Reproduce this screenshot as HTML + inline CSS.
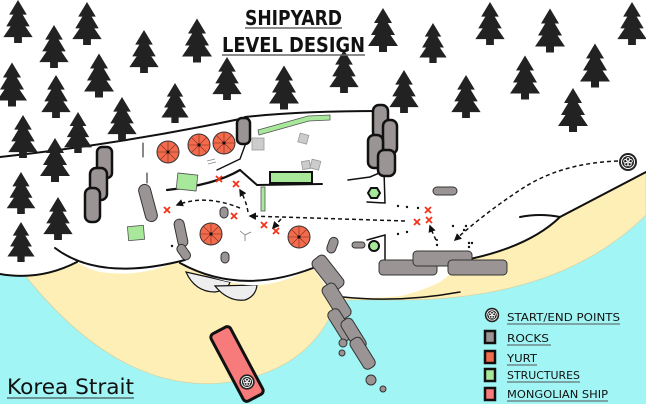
<!DOCTYPE html>
<html><head><meta charset="utf-8"><style>
html,body{margin:0;padding:0;background:#fff}
svg{display:block}
</style></head><body>
<svg width="646" height="404" viewBox="0 0 646 404" xmlns="http://www.w3.org/2000/svg">
<defs>
<symbol id="tree" viewBox="0 0 30 44">
<polygon points="15,0 6,15 24,15" fill="#222"/>
<polygon points="15,7 3,27 27,27" fill="#222"/>
<polygon points="15,16 0,38 30,38" fill="#222"/>
<rect x="11" y="37" width="8" height="7" fill="#222"/>
</symbol>
<g id="yurt"><circle r="11" fill="#f26b4d" stroke="#333" stroke-width="1"/>
<path d="M-11,0H11M0,-11V11M-7.8,-7.8L7.8,7.8M-7.8,7.8L7.8,-7.8" stroke="#7a2a1a" stroke-width="0.6"/>
<circle r="1.6" fill="#111"/></g>
<g id="xm"><path d="M-3,-3L3,3M-3,3L3,-3" stroke="#f2331a" stroke-width="1.8"/></g>
<g id="flower"><circle r="9" fill="#222"/><circle r="6.5" fill="none" stroke="#fff" stroke-width="1"/>
<g fill="none" stroke="#fff" stroke-width="0.9"><circle cx="0" cy="-2.6" r="1.8"/><circle cx="2.5" cy="-0.8" r="1.8"/><circle cx="1.5" cy="2.1" r="1.8"/><circle cx="-1.5" cy="2.1" r="1.8"/><circle cx="-2.5" cy="-0.8" r="1.8"/></g></g>
<marker id="ar" viewBox="0 0 10 10" refX="8" refY="5" markerWidth="5" markerHeight="5" orient="auto"><path d="M0,0L10,5L0,10z" fill="#111"/></marker>
</defs>
<rect width="646" height="404" fill="#a1f5f5"/>
<path d="M0,250 L28,279 Q120,392 222,383 Q300,374 330,317 L345,300 L400,300 Q560,300 646,215 V150 H0 Z" fill="#fdefb6" stroke="#d8cc99" stroke-width="0.6"/>
<!-- grey bumps -->
<path d="M186,272 Q195,292 215,292 Q228,290 230,282 Z" fill="#eee" stroke="#111" stroke-width="1.2"/>
<path d="M215,286 Q228,302 245,300 Q256,296 257,285 Z" fill="#eee" stroke="#111" stroke-width="1.2"/>
<path d="M0,0 H646 V172 Q600,197 560,217 Q530,246 470,259 L440,282 Q420,292 400,296 Q370,299 343,297 L330,292 L313,268 Q270,290 240,284 Q205,278 180,263 L175,262 Q140,278 100,272 Q85,268 77,262 Q40,282 0,274 Z" fill="#fff"/>
<g fill="none" stroke="#111" stroke-linecap="round">
<path d="M0,274 Q40,281 77,262" stroke-width="2"/>
<path d="M55,248 Q100,282 185,260" stroke-width="2"/>
<path d="M180,263 Q240,296 313,268" stroke-width="2"/>
<path d="M343,297 Q400,303 460,292" stroke-width="1.5"/>
<path d="M470,259 Q530,246 560,217 Q600,196 646,172" stroke-width="2"/>
<path d="M520,217 Q540,213 560,217" stroke-width="2"/>
<path d="M0,157 Q120,144 240,119" stroke-width="2"/>
<path d="M245,117 Q300,111 378,111" stroke-width="2"/>
<path d="M167,190 Q215,185 240,170" stroke-width="2.2"/>
<path d="M217,170 L240,159 L247,140" stroke-width="1.4"/>
<path d="M240,170 L257,185 L322,184" stroke-width="2"/>
<path d="M143,143 V157 M147,173 V183" stroke-width="1"/>
<path d="M348,180 L370,177 L384,171 L385,203 L367,202" stroke-width="1.5"/>
<path d="M367,240 L385,235 V260" stroke-width="1.5"/>
</g>
<!-- trees -->
<g>
<use href="#tree" x="3" y="0" width="30" height="43"/>
<use href="#tree" x="72" y="2" width="30" height="43"/>
<use href="#tree" x="39" y="25" width="30" height="43"/>
<use href="#tree" x="-3" y="62" width="30" height="45"/>
<use href="#tree" x="84" y="53" width="30" height="45"/>
<use href="#tree" x="41" y="75" width="30" height="43"/>
<use href="#tree" x="129" y="30" width="30" height="43"/>
<use href="#tree" x="182" y="18" width="30" height="45"/>
<use href="#tree" x="212" y="57" width="30" height="43"/>
<use href="#tree" x="160" y="83" width="30" height="40"/>
<use href="#tree" x="107" y="97" width="30" height="43"/>
<use href="#tree" x="8" y="115" width="30" height="43"/>
<use href="#tree" x="63" y="112" width="30" height="41"/>
<use href="#tree" x="40" y="138" width="30" height="44"/>
<use href="#tree" x="6" y="172" width="30" height="42"/>
<use href="#tree" x="43" y="197" width="30" height="43"/>
<use href="#tree" x="6" y="222" width="30" height="40"/>
<use href="#tree" x="269" y="65" width="30" height="45"/>
<use href="#tree" x="329" y="50" width="30" height="43"/>
<use href="#tree" x="368" y="8" width="30" height="44"/>
<use href="#tree" x="418" y="23" width="30" height="40"/>
<use href="#tree" x="389" y="70" width="30" height="43"/>
<use href="#tree" x="475" y="2" width="30" height="43"/>
<use href="#tree" x="451" y="75" width="30" height="43"/>
<use href="#tree" x="510" y="55" width="30" height="45"/>
<use href="#tree" x="535" y="8" width="30" height="45"/>
<use href="#tree" x="580" y="43" width="30" height="45"/>
<use href="#tree" x="558" y="88" width="30" height="44"/>
<use href="#tree" x="617" y="2" width="30" height="43"/>
</g>
<!-- structures -->
<g fill="#a7e89a" stroke="#555" stroke-width="0.8">
<path d="M258,130 L308,116 L330,115 L330,120 L309,121 L259,135 Z"/>
<rect x="177" y="174" width="20" height="16" transform="rotate(6 187 182)"/>
<rect x="128" y="226" width="16" height="14" transform="rotate(-5 136 233)"/>
<rect x="261" y="187" width="4" height="24"/>
</g>
<rect x="270" y="172" width="42" height="11" fill="#a7e89a" stroke="#111" stroke-width="2"/>
<g fill="#ccc" stroke="#999" stroke-width="0.8">
<rect x="252" y="138" width="12" height="12"/>
<rect x="299" y="134" width="9" height="9" transform="rotate(15 303 138)"/>
<rect x="302" y="161" width="8" height="8" transform="rotate(-10 306 165)"/>
<rect x="311" y="160" width="9" height="9" transform="rotate(15 315 164)"/>
</g>
<path d="M207,161 L215,159 M208,164 L216,162" stroke="#888" stroke-width="0.8"/>
<path d="M245,235 L245,241 M245,235 L240,231 M245,235 L251,232" stroke="#777" stroke-width="0.8"/>
<!-- rocks -->
<g fill="#9b9494" stroke="#111">
<rect x="237" y="118" width="13" height="26" rx="5" stroke-width="2.5"/>
<rect x="97" y="147" width="15" height="31" rx="5" stroke-width="2.5"/>
<rect x="90" y="168" width="17" height="32" rx="6" stroke-width="2.5"/>
<rect x="85" y="188" width="15" height="34" rx="6" stroke-width="2.5"/>
<rect x="373" y="105" width="15" height="33" rx="6" stroke-width="2.5"/>
<rect x="383" y="120" width="14" height="34" rx="6" stroke-width="2.5"/>
<rect x="368" y="135" width="15" height="33" rx="6" stroke-width="2.5"/>
<rect x="378" y="150" width="17" height="26" rx="6" stroke-width="2.5"/>
</g>
<g fill="#9b9494" stroke="#333" stroke-width="1">
<rect x="142" y="184" width="12" height="38" rx="6" transform="rotate(-15 148 203)"/>
<rect x="176" y="219" width="10" height="28" rx="5" transform="rotate(-12 181 233)"/>
<rect x="179" y="244" width="9" height="17" rx="4.5" transform="rotate(-35 183 252)"/>
<rect x="220" y="207" width="8" height="11" rx="4"/>
<rect x="221" y="252" width="8" height="11" rx="4"/>
<rect x="433" y="187" width="24" height="8" rx="4"/>
<rect x="328" y="237" width="9" height="16" rx="4.5" transform="rotate(20 332 245)"/>
<rect x="352" y="242" width="13" height="6" rx="3"/>
<rect x="379" y="260" width="58" height="15" rx="4"/>
<rect x="413" y="251" width="59" height="15" rx="4"/>
<rect x="448" y="260" width="59" height="15" rx="4"/>
<rect x="309" y="265" width="38" height="16" rx="5" transform="rotate(52 328 273)"/>
<rect x="318" y="294" width="38" height="15" rx="5" transform="rotate(58 337 301)"/>
<rect x="323" y="318" width="34" height="13" rx="5" transform="rotate(58 340 325)"/>
<rect x="337" y="328" width="34" height="13" rx="5" transform="rotate(58 354 334)"/>
<rect x="346" y="347" width="34" height="13" rx="5" transform="rotate(58 363 353)"/>
<circle cx="343" cy="343" r="4"/><circle cx="342" cy="353" r="3"/><circle cx="371" cy="380" r="5"/><circle cx="383" cy="389" r="3"/>
</g>
<path d="M368,193 l3,-5 h6 l3,5 l-3,5 h-6 z" fill="#a7e89a" stroke="#111" stroke-width="2"/>
<circle cx="374" cy="246" r="5" fill="#a7e89a" stroke="#111" stroke-width="2"/>
<!-- yurts -->
<use href="#yurt" x="168" y="152"/><use href="#yurt" x="199" y="145"/><use href="#yurt" x="224" y="143"/>
<use href="#yurt" x="211" y="234"/><use href="#yurt" x="299" y="237"/>
<!-- x marks -->
<use href="#xm" x="219" y="179"/><use href="#xm" x="236" y="184"/><use href="#xm" x="167" y="210"/>
<use href="#xm" x="234" y="216"/><use href="#xm" x="264" y="225"/><use href="#xm" x="276" y="231"/>
<use href="#xm" x="428" y="210"/><use href="#xm" x="417" y="222"/><use href="#xm" x="429" y="220"/>
<!-- dots -->
<g fill="#111"><circle cx="172" cy="246" r="1.2"/><circle cx="398" cy="206" r="1.2"/><circle cx="407" cy="207" r="1.2"/><circle cx="418" cy="208" r="1.2"/><circle cx="398" cy="234" r="1.2"/><circle cx="407" cy="232" r="1.2"/><circle cx="453" cy="226" r="1.2"/><circle cx="466" cy="226" r="1.2"/><circle cx="464" cy="230" r="1.2"/><circle cx="469" cy="243" r="1.2"/><circle cx="472" cy="243" r="1.2"/><circle cx="469" cy="247" r="1.2"/><circle cx="437" cy="245" r="1.2"/><circle cx="437" cy="240" r="1"/></g>
<!-- paths -->
<g fill="none" stroke="#111" stroke-width="1.5" stroke-dasharray="4 3">
<path d="M618,161 Q560,163 520,190 Q485,213 455,240" marker-end="url(#ar)"/>
<path d="M405,221 L250,216" marker-end="url(#ar)"/>
<path d="M248,212 Q246,200 240,190" marker-end="url(#ar)"/>
<path d="M240,208 Q205,194 177,205" marker-end="url(#ar)"/>
<path d="M281,219 L273,228" marker-end="url(#ar)"/>
<path d="M436,240 Q433,234 430,226" marker-end="url(#ar)"/>
</g>
<use href="#flower" x="628" y="162"/>
<!-- ship -->
<g transform="rotate(-28 237 364)">
<rect x="226" y="326" width="22" height="76" rx="4" fill="#f77b7b" stroke="#111" stroke-width="3"/>
</g>
<use href="#flower" transform="translate(247 382) scale(0.85)"/>
<!-- title -->
<g font-family="'DejaVu Sans','Liberation Sans',sans-serif" font-weight="bold" fill="#111">
<text x="245" y="25" font-size="20" textLength="97" lengthAdjust="spacingAndGlyphs">SHIPYARD</text>
<text x="222" y="52" font-size="20" textLength="143" lengthAdjust="spacingAndGlyphs">LEVEL DESIGN</text>
</g>
<path d="M245,28 H342 M222,55 H365" stroke="#666" stroke-width="1.5"/>
<!-- Korea Strait -->
<text x="7" y="394" font-family="'DejaVu Sans','Liberation Sans',sans-serif" font-size="21" fill="#111" textLength="127" lengthAdjust="spacingAndGlyphs">Korea Strait</text>
<path d="M7,398 H134" stroke="#333" stroke-width="1"/>
<!-- legend -->
<use href="#flower" transform="translate(492 315) scale(0.8)"/>
<g stroke="#111" stroke-width="2.5">
<rect x="485" y="331" width="10" height="12" fill="#9b9494"/>
<rect x="485" y="351" width="10" height="12" fill="#f26b4d"/>
<rect x="485" y="369" width="10" height="12" fill="#a7e89a"/>
<rect x="485" y="388" width="10" height="12" fill="#f77b7b"/>
</g>
<g font-family="'DejaVu Sans','Liberation Sans',sans-serif" font-size="11" fill="#111">
<text x="507" y="321" textLength="113" lengthAdjust="spacingAndGlyphs">START/END POINTS</text>
<text x="507" y="342" textLength="42" lengthAdjust="spacingAndGlyphs">ROCKS</text>
<text x="507" y="362" textLength="30" lengthAdjust="spacingAndGlyphs">YURT</text>
<text x="507" y="379" textLength="73" lengthAdjust="spacingAndGlyphs">STRUCTURES</text>
<text x="507" y="398" textLength="101" lengthAdjust="spacingAndGlyphs">MONGOLIAN SHIP</text>
</g>
<g stroke="#555" stroke-width="1">
<path d="M507,324 H620 M507,345 H551 M507,365 H537 M507,382 H580 M507,401 H608"/>
</g>
</svg>
</body></html>
